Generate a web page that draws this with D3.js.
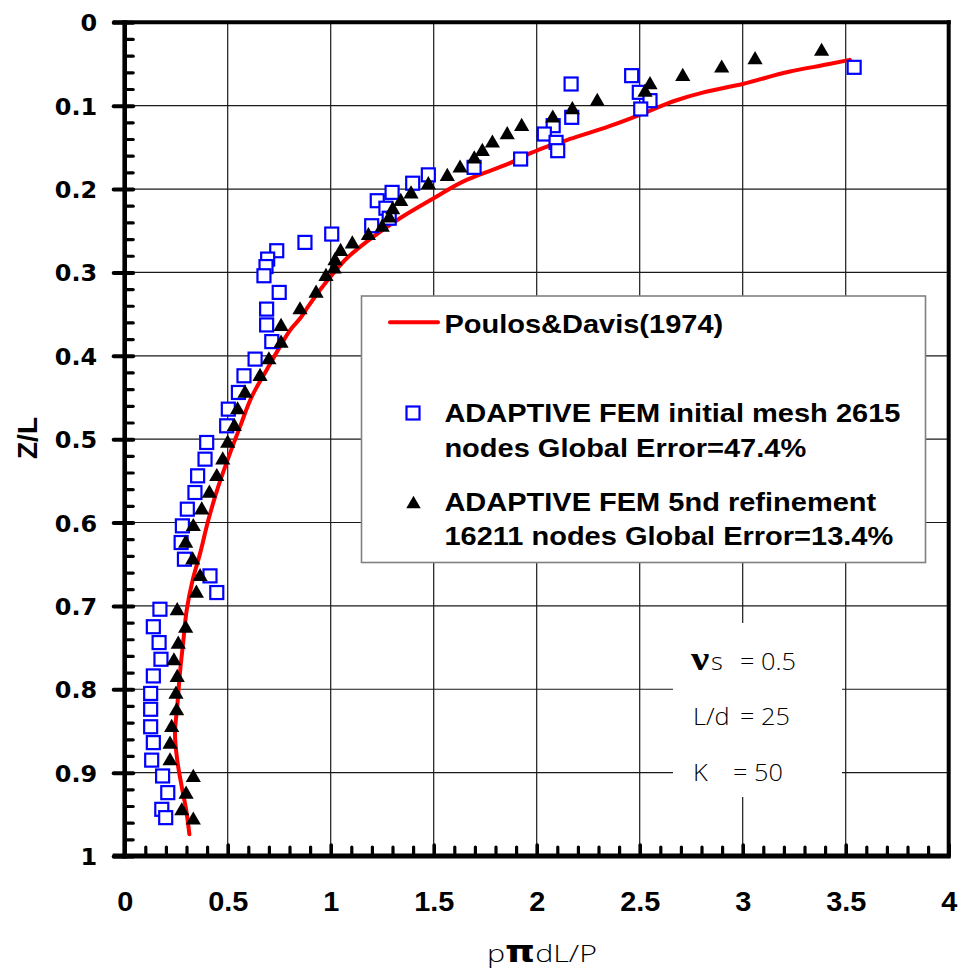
<!DOCTYPE html>
<html>
<head>
<meta charset="utf-8">
<script src="https://cdn.jsdelivr.net/npm/d3@7"></script>
<style>
  html, body { margin: 0; padding: 0; background: #fff; }
  svg { display: block; }
</style>
</head>
<body>
<svg id="chart" width="960" height="974"></svg>
<script>
// ---- axis ticks ----
const xTickValues = [0, 0.5, 1, 1.5, 2, 2.5, 3, 3.5, 4];
const xTickLabels = ["0", "0.5", "1", "1.5", "2", "2.5", "3", "3.5", "4"];
const yTickValues = [0, 0.1, 0.2, 0.3, 0.4, 0.5, 0.6, 0.7, 0.8, 0.9, 1];
const yTickLabels = ["0", "0.1", "0.2", "0.3", "0.4", "0.5", "0.6", "0.7", "0.8", "0.9", "1"];

// ---- Poulos & Davis (1974) solution: shaft load p·π·d·L/P against depth Z/L ----
const poulosZ = [0.045, 0.050, 0.059, 0.074, 0.084, 0.095, 0.103, 0.111, 0.124, 0.141,
                 0.149, 0.157, 0.169, 0.189, 0.211, 0.235, 0.263, 0.283, 0.301, 0.321,
                 0.341, 0.355, 0.367, 0.389, 0.417, 0.449, 0.485, 0.517, 0.557, 0.597,
                 0.637, 0.669, 0.705, 0.741, 0.781, 0.821, 0.853, 0.885, 0.917, 0.944, 0.974];
const poulosX = [3.52, 3.42, 3.23, 3.00, 2.81, 2.66, 2.58, 2.50, 2.36, 2.15,
                 2.05, 1.97, 1.87, 1.66, 1.50, 1.336, 1.175, 1.078, 1.013, 0.948,
                 0.89, 0.852, 0.81, 0.754, 0.689, 0.617, 0.56, 0.511, 0.454, 0.406,
                 0.366, 0.33, 0.301, 0.285, 0.268, 0.255, 0.244, 0.255, 0.277, 0.298, 0.314];

// ---- ADAPTIVE FEM, initial mesh (2615 nodes) ----
const initZ = [0.054, 0.064, 0.074, 0.084, 0.094, 0.104, 0.114, 0.124, 0.134, 0.144,
               0.154, 0.164, 0.174, 0.183, 0.193, 0.204, 0.214, 0.223, 0.235, 0.244,
               0.254, 0.264, 0.274, 0.284, 0.293, 0.304, 0.324, 0.344, 0.363, 0.383,
               0.404, 0.424, 0.444, 0.464, 0.484, 0.504, 0.524, 0.544, 0.564, 0.584,
               0.604, 0.624, 0.644, 0.664, 0.684, 0.704, 0.725, 0.744, 0.764, 0.784,
               0.805, 0.824, 0.845, 0.864, 0.885, 0.904, 0.924, 0.944, 0.954];
const initX = [3.541, 2.461, 2.167, 2.498, 2.55, 2.505, 2.17, 2.08, 2.037, 2.094,
               2.102, 1.922, 1.696, 1.474, 1.398, 1.298, 1.226, 1.268, 1.284, 1.199,
               1.005, 0.875, 0.738, 0.694, 0.686, 0.676, 0.75, 0.689, 0.689, 0.714,
               0.633, 0.579, 0.552, 0.503, 0.495, 0.398, 0.39, 0.354, 0.341, 0.304,
               0.28, 0.274, 0.29, 0.414, 0.447, 0.171, 0.139, 0.167, 0.176, 0.139,
               0.126, 0.126, 0.126, 0.139, 0.131, 0.184, 0.209, 0.18, 0.199];

// ---- ADAPTIVE FEM, 5th refinement (16211 nodes) ----
const refZ = [0.035, 0.045, 0.055, 0.065, 0.075, 0.084, 0.095, 0.105, 0.115, 0.125,
              0.135, 0.145, 0.155, 0.164, 0.175, 0.185, 0.195, 0.206, 0.215, 0.225,
              0.235, 0.246, 0.256, 0.266, 0.275, 0.286, 0.296, 0.305, 0.325, 0.345,
              0.365, 0.385, 0.405, 0.425, 0.445, 0.465, 0.485, 0.505, 0.525, 0.545,
              0.565, 0.585, 0.605, 0.625, 0.645, 0.665, 0.685, 0.706, 0.727, 0.746,
              0.766, 0.786, 0.806, 0.826, 0.846, 0.866, 0.886, 0.906, 0.926, 0.946, 0.957];
const refX = [3.383, 3.06, 2.898, 2.709, 2.55, 2.526, 2.294, 2.173, 2.078, 1.927,
              1.857, 1.785, 1.736, 1.697, 1.628, 1.566, 1.474, 1.39, 1.34, 1.301,
              1.284, 1.25, 1.183, 1.105, 1.048, 1.021, 1.017, 0.977, 0.929, 0.851,
              0.759, 0.759, 0.70, 0.657, 0.584, 0.548, 0.532, 0.50, 0.476, 0.447,
              0.411, 0.374, 0.333, 0.296, 0.33, 0.366, 0.348, 0.255, 0.296, 0.26,
              0.239, 0.255, 0.249, 0.252, 0.228, 0.22, 0.22, 0.333, 0.298, 0.277, 0.333];

// ---- legend and parameter text ----
const legendLines = [
  ["Poulos&Davis(1974)"],
  ["ADAPTIVE FEM initial mesh 2615", "nodes Global Error=47.4%"],
  ["ADAPTIVE FEM 5nd refinement", "16211 nodes Global Error=13.4%"]
];
const paramLabels = ["s", "L/d", "K"];
const paramValues = ["= 0.5", "= 25", "= 50"];

const svg = d3.select("#chart");
svg.append("rect").attr("width", 960).attr("height", 974).attr("fill", "#fff");

const x = d3.scaleLinear().domain([0, 4]).range([124.7, 948.7]);
const y = d3.scaleLinear().domain([0, 1]).range([22.3, 856]);

const boldFont = "'Liberation Sans', Arial, sans-serif";
const lightFont = "'Open Sans', 'Lato', 'Liberation Sans', sans-serif";

// text slightly widened horizontally, like the exported figure
function wideText(parent, tx, ty, str, opt) {
  const t = parent.append("text")
    .attr("transform", `translate(${tx},${ty}) scale(${opt.sx || 1},1)`)
    .attr("text-anchor", opt.anchor || "start")
    .attr("font-family", opt.family || boldFont)
    .attr("font-weight", opt.weight || "bold")
    .attr("font-size", opt.size)
    .attr("fill", opt.fill || "#000")
    .text(str);
  return t;
}

// ---- grid ----
const grid = svg.append("g").attr("stroke", "#1a1a1a").attr("stroke-width", 1.2);
grid.selectAll("line.v")
  .data(xTickValues.filter(v => v > 0 && v < 4))
  .join("line")
  .attr("x1", d => x(d)).attr("x2", d => x(d))
  .attr("y1", y(0)).attr("y2", y(1));
grid.selectAll("line.h")
  .data(yTickValues.filter(v => v > 0 && v < 1))
  .join("line")
  .attr("x1", x(0)).attr("x2", x(4))
  .attr("y1", d => y(d)).attr("y2", d => y(d));

// ---- parameter box ----
svg.append("rect").attr("x", 673).attr("y", 623).attr("width", 169).attr("height", 174).attr("fill", "#fff");
const pg = svg.append("g");
// Poisson's ratio symbol
pg.append("text").attr("transform", "translate(691,670) scale(1.2,1)")
  .attr("font-family", "'Liberation Serif', 'Times New Roman', serif").attr("font-weight", "bold")
  .attr("font-size", 34).text("\u03bd");
const paramRows = [670, 725, 780.5];
wideText(pg, 711, paramRows[0], paramLabels[0], {size: 23, family: lightFont, weight: 300, sx: 1.1});
wideText(pg, 693, paramRows[1], paramLabels[1], {size: 23, family: lightFont, weight: 300, sx: 1.1});
wideText(pg, 693, paramRows[2], paramLabels[2], {size: 23, family: lightFont, weight: 300, sx: 1.1});
wideText(pg, 740, paramRows[0], paramValues[0], {size: 23, family: lightFont, weight: 300, sx: 1.1});
wideText(pg, 740, paramRows[1], paramValues[1], {size: 23, family: lightFont, weight: 300, sx: 1.1});
wideText(pg, 733, paramRows[2], paramValues[2], {size: 23, family: lightFont, weight: 300, sx: 1.1});

// ---- legend ----
const lg = svg.append("g");
lg.append("rect").attr("x", 361.5).attr("y", 296).attr("width", 564).attr("height", 266.5)
  .attr("fill", "#fff").attr("stroke", "#808080").attr("stroke-width", 1.6);
lg.append("line").attr("x1", 390).attr("x2", 438).attr("y1", 322.3).attr("y2", 322.3)
  .attr("stroke", "#ff0000").attr("stroke-width", 4).attr("stroke-linecap", "round");
lg.append("rect").attr("x", 406.5).attr("y", 406.5).attr("width", 13).attr("height", 13)
  .attr("fill", "#fff").attr("stroke", "#0000ff").attr("stroke-width", 2.2);
lg.append("path").attr("d", d3.symbol(d3.symbolTriangle, 90)())
  .attr("transform", "translate(413.5,504)").attr("fill", "#000");
const legendBase = [[333.3], [421.7, 456.5], [510.5, 545]];
legendLines.forEach((lines, i) => {
  lines.forEach((s, j) => wideText(lg, 444.4, legendBase[i][j], s, {size: 26.5, sx: 1.095}));
});

// ---- Poulos & Davis curve ----
const poulos = poulosZ.map((z, i) => ({x: poulosX[i], z}));
svg.append("path")
  .datum(poulos)
  .attr("d", d3.line().x(d => x(d.x)).y(d => y(d.z)).curve(d3.curveMonotoneY))
  .attr("fill", "none").attr("stroke", "#ff0000").attr("stroke-width", 4)
  .attr("stroke-linejoin", "round").attr("stroke-linecap", "round");

// ---- initial mesh points ----
const initPts = initZ.map((z, i) => ({x: initX[i], z}));
svg.append("g").selectAll("rect")
  .data(initPts).join("rect")
  .attr("x", d => x(d.x) - 6.5).attr("y", d => y(d.z) - 6.5)
  .attr("width", 13).attr("height", 13)
  .attr("fill", "#fff").attr("stroke", "#0000ff").attr("stroke-width", 2.2);

// ---- refined mesh points ----
const refPts = refZ.map((z, i) => ({x: refX[i], z}));
const tri = d3.symbol(d3.symbolTriangle, 100);
svg.append("g").selectAll("path")
  .data(refPts).join("path")
  .attr("d", tri)
  .attr("transform", d => `translate(${x(d.x)},${y(d.z)})`)
  .attr("fill", "#000");

// ---- frame ----
const frame = svg.append("g").attr("stroke", "#000").attr("stroke-linecap", "butt");
frame.append("line").attr("x1", x(0) - 12).attr("x2", x(4) + 2).attr("y1", y(0)).attr("y2", y(0)).attr("stroke-width", 4);
frame.append("line").attr("x1", x(4)).attr("x2", x(4)).attr("y1", y(0) - 2).attr("y2", y(1)).attr("stroke-width", 4);
frame.append("line").attr("x1", x(0)).attr("x2", x(0)).attr("y1", y(0) - 2).attr("y2", y(1) + 2.5).attr("stroke-width", 4.6);
frame.append("line").attr("x1", x(0) - 12).attr("x2", x(4) + 2).attr("y1", y(1)).attr("y2", y(1)).attr("stroke-width", 5);

// ---- Y axis ----
const yMinor = d3.range(0, 1.0001, 0.02).filter(v => Math.abs(v * 10 - Math.round(v * 10)) > 1e-6);
const yMinorAxis = svg.append("g").attr("transform", `translate(${x(0)},0)`)
  .call(d3.axisLeft(y).tickValues(yMinor).tickFormat("").tickSizeOuter(0));
yMinorAxis.select(".domain").remove();
yMinorAxis.selectAll(".tick line").attr("x1", 0).attr("x2", 8.5)
  .attr("stroke-width", 3.2).attr("stroke-linecap", "round");

const yAxis = svg.append("g").attr("transform", `translate(${x(0)},0)`)
  .call(d3.axisLeft(y).tickValues(yTickValues).tickFormat((d, i) => yTickLabels[i]).tickSizeOuter(0));
yAxis.select(".domain").remove();
yAxis.selectAll(".tick line").attr("x1", -11).attr("x2", 8.5)
  .attr("stroke-width", 4).attr("stroke-linecap", "round");
yAxis.selectAll(".tick text")
  .attr("x", 0).attr("dy", null).attr("text-anchor", "end")
  .attr("transform", "translate(-27.5,8.5) scale(1.04,1)")
  .attr("font-family", "'DejaVu Sans', Verdana, sans-serif").attr("font-weight", "bold")
  .attr("font-size", 23).attr("fill", "#000");

// ---- X axis ----
const xMinor = d3.range(0, 4.0001, 0.1).filter(v => Math.abs(v * 2 - Math.round(v * 2)) > 1e-6);
const xMinorAxis = svg.append("g").attr("transform", `translate(0,${y(1)})`)
  .call(d3.axisBottom(x).tickValues(xMinor).tickFormat("").tickSizeOuter(0));
xMinorAxis.select(".domain").remove();
xMinorAxis.selectAll(".tick line").attr("y1", 0).attr("y2", -9)
  .attr("stroke-width", 3.2).attr("stroke-linecap", "round");

const xAxis = svg.append("g").attr("transform", `translate(0,${y(1)})`)
  .call(d3.axisBottom(x).tickValues(xTickValues).tickFormat((d, i) => xTickLabels[i]).tickSizeOuter(0));
xAxis.select(".domain").remove();
xAxis.selectAll(".tick line").attr("y1", 0).attr("y2", -11)
  .attr("stroke-width", 3.6).attr("stroke-linecap", "round");
xAxis.selectAll(".tick text")
  .attr("y", 0).attr("dy", null).attr("text-anchor", "middle")
  .attr("transform", "translate(0,55) scale(1.07,1)")
  .attr("font-family", boldFont).attr("font-weight", "bold")
  .attr("font-size", 27).attr("fill", "#000");

// ---- axis titles ----
svg.append("text")
  .attr("transform", "translate(37,438) rotate(-90)")
  .attr("text-anchor", "middle")
  .attr("font-family", boldFont).attr("font-weight", "bold").attr("font-size", 28)
  .text("Z/L");

const xt = svg.append("text")
  .attr("x", 487).attr("y", 962)
  .attr("font-family", lightFont).attr("font-weight", 300).attr("font-size", 24)
  .attr("textLength", 110).attr("lengthAdjust", "spacingAndGlyphs");
xt.append("tspan").text("p");
xt.append("tspan").attr("font-family", "'DejaVu Sans', 'Liberation Sans', sans-serif")
  .attr("font-weight", "bold").attr("font-size", 30).text("\u03c0");
xt.append("tspan").text("dL/P");
</script>
</body>
</html>
